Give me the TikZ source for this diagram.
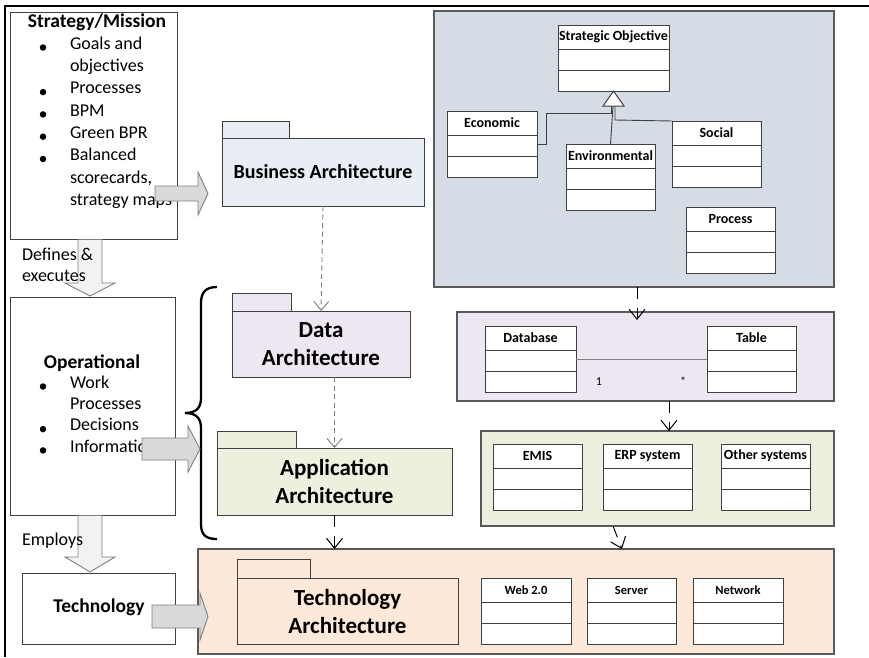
\documentclass[tikz,border=0pt]{standalone}
\usepackage{fontspec}
\setmainfont{Carlito}
\usetikzlibrary{arrows.meta,calc}
\definecolor{bluebg}{HTML}{D6DCE5}
\definecolor{bablue}{HTML}{E9EDF4}
\definecolor{lavbg}{HTML}{EDE7F1}
\definecolor{greenbg}{HTML}{EBF1DE}
\definecolor{peachbg}{HTML}{FDE9D9}
\definecolor{arrgray}{HTML}{D9D9D9}
\definecolor{arrlight}{HTML}{F2F2F2}
\definecolor{arrline}{HTML}{7F7F7F}
\definecolor{edgec}{HTML}{404040}
\definecolor{contc}{HTML}{595959}
\tikzset{
  every node/.style={inner sep=0pt, outer sep=0pt},
  lbox/.style={draw=edgec, line width=1pt, fill=white, anchor=north west},
  container/.style={draw=contc, line width=1.4pt, anchor=north west},
  cls/.style={draw=edgec, line width=0.9pt, fill=white, minimum height=66pt, anchor=north west},
  clstitle/.style={font=\bfseries\fontsize{14}{16}\selectfont},
  clstitlesmall/.style={font=\bfseries\fontsize{12.5}{14}\selectfont},
  pkgtab/.style={draw=edgec, line width=0.9pt, anchor=north west},
  pkg/.style={draw=edgec, line width=0.9pt, anchor=north west, align=center,
    font=\bfseries\fontsize{23}{28}\selectfont},
  item/.style={anchor=mid west, font=\fontsize{18}{21}\selectfont},
  headtxt/.style={anchor=mid, font=\bfseries\fontsize{19.5}{22}\selectfont},
  bulletdot/.style={circle, fill=black, minimum size=6.5pt},
  blockr/.style={draw=arrline, fill=arrgray, line width=0.9pt},
  blockd/.style={draw=arrline, fill=arrlight, line width=0.9pt},
  grayarr/.style={draw=arrline, line width=0.9pt, dash pattern=on 5pt off 3.5pt,
    -{Straight Barb[length=9pt,width=15pt]}},
  blackarr/.style={draw=black, line width=1pt, dash pattern=on 12pt off 9pt,
    -{Straight Barb[length=10pt,width=16pt]}},
  gen/.style={draw=edgec, line width=0.9pt},
}
\newcommand\umlcls[6]{%
  \node[cls, minimum width=#4] (#1) at (#2,#3) {};
  \draw[edgec, line width=0.9pt] ($(#1.north west)+(0,24)$) -- ($(#1.north east)+(0,24)$)
     ($(#1.north west)+(0,45)$) -- ($(#1.north east)+(0,45)$);
  \node[#6] (#1-title) at ($(#1.north)+(0,12)$) {#5};
}
\newcommand\rblock[8]{% name style x0 headbase tip yc shafthalf headhalf
  \draw[#2] ({#3},{#6-#7}) coordinate (#1-start) -- ({#4},{#6-#7}) -- ({#4},{#6-#8})
    -- ({#5},{#6}) coordinate (#1-tip) -- ({#4},{#6+#8}) -- ({#4},{#6+#7}) -- ({#3},{#6+#7}) -- cycle;
}
\newcommand\dblock[8]{% name style xc y0 headbase tip shafthalf headhalf
  \draw[#2] ({#3-#7},{#4}) coordinate (#1-start) -- ({#3-#7},{#5}) -- ({#3-#8},{#5})
    -- ({#3},{#6}) coordinate (#1-tip) -- ({#3+#8},{#5}) -- ({#3+#7},{#5}) -- ({#3+#7},{#4}) -- cycle;
}
\begin{document}
\begin{tikzpicture}[x=1pt,y=-1pt]
\useasboundingbox (0,0) rectangle (869,657);
% frame
\draw[line width=2pt] (5,657) -- (5,6) -- (869,6);

% ---------- left column ----------
\node[lbox, minimum width=167, minimum height=227] (strat) at (10,12) {};
\node[headtxt] (strat-title) at (97,25) {Strategy/Mission};
\foreach \i/\t in {0/Goals and,1/objectives,2/Processes,3/BPM,4/Green BPR,5/Balanced,6/{scorecards,},7/strategy maps}
  \node[item] (si\i) at (70,{47+22.3*\i}) {\t};
\foreach \i in {0,2,3,4,5}
  \node[bulletdot] (sb\i) at (43,{47.5+22.3*\i}) {};

\node[lbox, minimum width=165, minimum height=218] (oper) at (10,297) {};
\node[headtxt] (oper-title) at (92,366) {Operational};
\foreach \i/\t in {0/Work,1/Processes,2/Decisions,3/Information}
  \node[item] (oi\i) at (70,{386+21.3*\i}) {\t};
\foreach \i in {0,2,3}
  \node[bulletdot] (ob\i) at (43,{386.5+21.3*\i}) {};

\node[lbox, minimum width=153, minimum height=71] (tech) at (22,573) {};
\node[headtxt] (tech-title) at (99,610) {Technology};

% down block arrows
\dblock{defarr}{blockd}{90}{239.5}{283}{296}{12}{25}
\node[item] (def1) at (22,258) {Defines \&};
\node[item] (def2) at (22,279) {executes};
\dblock{empl}{blockd}{90}{515.5}{557}{572}{12}{25}
\node[item] (emp1) at (22,543) {Employs};

% ---------- brace ----------
\draw[line width=2.3pt] (217,287) .. controls (206,287) and (201,292) .. (201,303)
  -- (201,398) .. controls (201,408) and (196,413) .. (185,413)
  .. controls (196,413) and (201,418) .. (201,428)
  -- (201,524) .. controls (201,535) and (206,539) .. (217,539);

% ---------- containers (right) ----------
\node[container, fill=bluebg, minimum width=400, minimum height=276] (blue) at (434,11) {};
\node[container, fill=lavbg, minimum width=377, minimum height=89] (lav) at (457,312) {};
\node[container, fill=greenbg, minimum width=353, minimum height=95] (green) at (481,431) {};
\node[container, fill=peachbg, minimum width=636, minimum height=105] (peach) at (198,549) {};

% ---------- packages ----------
\node[pkgtab, fill=bablue, minimum width=67, minimum height=17] (ba-tab) at (222,121) {};
\node[pkg, fill=bablue, minimum width=202, minimum height=68, font=\bfseries\fontsize{20}{24}\selectfont] (ba) at (222,138) {Business Architecture};
\node[pkgtab, fill=lavbg, minimum width=59, minimum height=18] (da-tab) at (232,293) {};
\node[pkg, fill=lavbg, minimum width=178, minimum height=66] (da) at (232,311) {Data\\Architecture};
\node[pkgtab, fill=greenbg, minimum width=79, minimum height=17] (app-tab) at (217,431) {};
\node[pkg, fill=greenbg, minimum width=235, minimum height=67] (app) at (217,448) {Application\\Architecture};
\node[pkgtab, fill=peachbg, minimum width=73, minimum height=19] (ta-tab) at (237,559) {};
\node[pkg, fill=peachbg, minimum width=221, minimum height=66] (ta) at (237,578) {Technology\\Architecture};

% ---------- classes ----------
\umlcls{so}{558}{25}{111}{Strategic Objective}{clstitle}
\umlcls{eco}{447}{111}{90}{Economic}{clstitle}
\umlcls{env}{566}{144}{89}{Environmental}{clstitle}
\umlcls{soc}{672}{121}{89}{Social}{clstitle}
\umlcls{proc}{686}{207}{89}{Process}{clstitle}
\umlcls{db}{485}{326}{91}{Database}{clstitle}
\umlcls{tbl}{707}{326}{89}{Table}{clstitle}
\umlcls{emis}{493}{444}{89}{EMIS}{clstitle}
\umlcls{erp}{603}{444}{89}{ERP system}{clstitle}
\umlcls{oth}{721}{444}{89}{Other systems}{clstitle}
\umlcls{web}{481}{578}{90}{Web 2.0}{clstitlesmall}
\umlcls{srv}{587}{578}{89}{Server}{clstitlesmall}
\umlcls{net}{693}{578}{90}{Network}{clstitlesmall}

% generalisation
\draw[gen] (eco.east) -- ++(9,0) |- ($(so.south)+(-2,22)$) -- ($(so.south)+(-2,15)$);
\draw[gen] (env.north) -- ($(so.south)+(-0.5,15)$);
\draw[gen] (soc.north west) -- ($(so.south)+(1.5,29)$) -- ($(so.south)+(1.5,15)$);
\draw[edgec, fill=white, line width=1pt] (so.south) -- ++(-10.5,15) -- ++(21,0) -- cycle;

% association
\draw[arrline, line width=1pt] (db.east) -- (tbl.west);
\node[font=\fontsize{12}{14}\selectfont] (mult1) at (599,382) {1};
\node[font=\fontsize{12}{14}\selectfont] (mult2) at (683,381) {*};

% ---------- dependency arrows ----------
\draw[grayarr] (ba.south) -- (da.north);
\draw[grayarr] (da.south -| app.north) -- (app.north);
\draw[blackarr] (app.south) -- (app.south |- peach.north);
\draw[blackarr] ($(blue.south)+(3,0)$) -- ($(blue.south |- lav.north)+(3,8)$);
\draw[blackarr] ($(lav.south)+(23.5,0)$) -- ($(green.north)+(11.5,0)$);
\draw[blackarr] ($(green.south)+(-44.5,0)$) -- ($(peach.north)+(106,0)$);

% ---------- right block arrows (on top of text) ----------
\rblock{sarr}{blockr}{155}{198}{208}{193.5}{7.5}{21.5}
\rblock{oarr}{blockr}{142}{188}{200}{449}{11}{23}
\rblock{tarr}{blockr}{152}{200}{208}{616.5}{11.5}{23.5}
\end{tikzpicture}
\end{document}
